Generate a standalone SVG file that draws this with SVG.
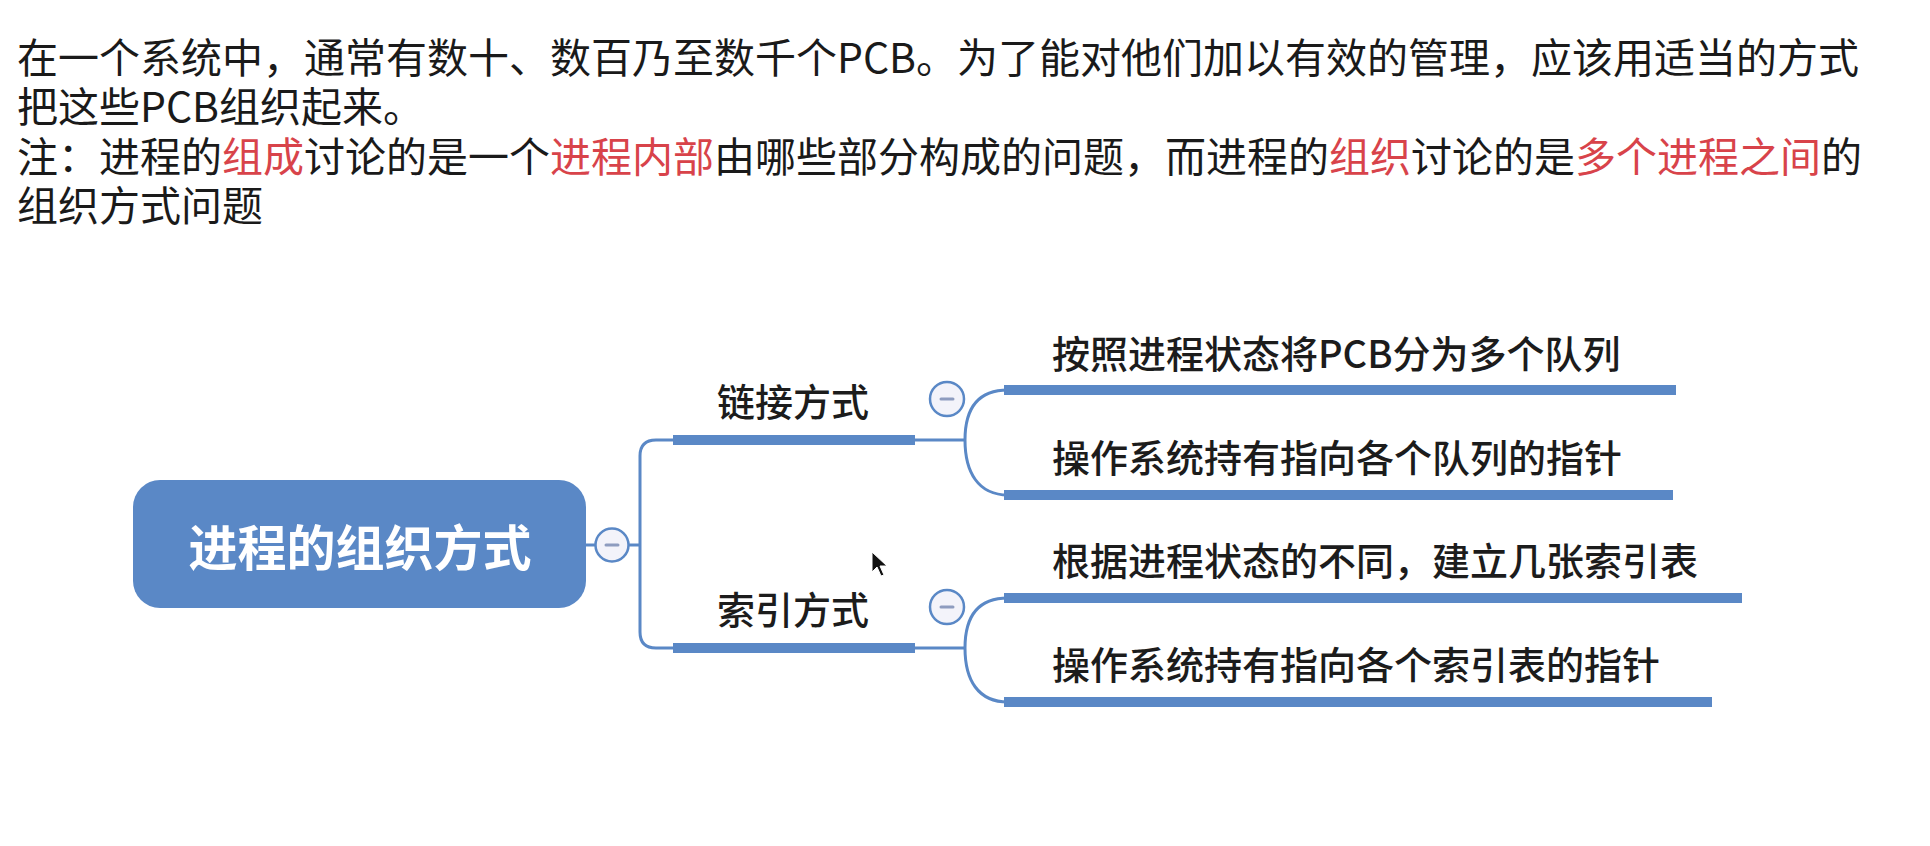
<svg xmlns="http://www.w3.org/2000/svg" width="1930" height="846" viewBox="0 0 1930 846">
<style>
.para{font-family:"Noto Sans CJK SC","Noto Sans",sans-serif;font-size:41px;fill:#1a1a1a;}
.red{fill:#d8434a;}
.root{font-family:"Noto Sans CJK SC",sans-serif;font-size:49px;font-weight:700;fill:#ffffff;}
.topic{font-family:"Noto Sans CJK SC",sans-serif;font-size:38px;font-weight:500;fill:#1c1c1c;}
.thin{fill:none;stroke:#5a88c6;stroke-width:3;}
.bar{fill:#5a88c6;}
.tog circle{fill:#f3f3fa;stroke:#5a88c6;stroke-width:2.5;}
.tog line{stroke:#8e9cbf;stroke-width:3;stroke-linecap:round;}
</style>
<rect width="1930" height="846" fill="#ffffff"/>
<g id="intro">
<text class="para" x="17" y="73">在一个系统中，通常有数十、数百乃至数千个PCB。为了能对他们加以有效的管理，应该用适当的方式</text>
<text class="para" x="17" y="122">把这些PCB组织起来。</text>
<text class="para" x="17" y="172">注：进程的<tspan class="red">组成</tspan>讨论的是一个<tspan class="red">进程内部</tspan>由哪些部分构成的问题，而进程的<tspan class="red">组织</tspan>讨论的是<tspan class="red">多个进程之间</tspan>的</text>
<text class="para" x="17" y="221">组织方式问题</text>
</g>
<g id="connectors">
<path class="thin" d="M586,545 H596"/>
<path class="thin" d="M629,545 H640"/>
<path class="thin" d="M676,440 H656 Q640,440 640,456 V632 Q640,648 656,648 H676"/>
<rect class="bar" x="673" y="435" width="242" height="10"/>
<rect class="bar" x="673" y="643" width="242" height="10"/>
<path class="thin" d="M914,440 H965"/>
<path class="thin" d="M914,648 H965"/>
<path class="thin" d="M965,440 C965,408 978,390 1008,390"/>
<path class="thin" d="M965,440 C965,472 978,495 1008,495"/>
<path class="thin" d="M965,648 C965,616 978,598 1008,598"/>
<path class="thin" d="M965,648 C965,680 978,702 1008,702"/>
</g>
<g id="root">
<rect x="133" y="480" width="453" height="128" rx="27" fill="#5a88c6"/>
<text class="root" x="360" y="566" text-anchor="middle">进程的组织方式</text>
</g>
<g id="root-toggle" class="tog">
<circle cx="612" cy="545" r="16.5"/>
<line x1="606" y1="545" x2="618" y2="545"/>
</g>
<g id="link">
<text class="topic" x="793" y="416" text-anchor="middle">链接方式</text>
</g>
<g id="link-toggle" class="tog">
<circle cx="947" cy="399" r="17"/>
<line x1="941" y1="399" x2="953" y2="399"/>
</g>
<g id="index">
<text class="topic" x="793" y="624" text-anchor="middle">索引方式</text>
</g>
<g id="index-toggle" class="tog">
<circle cx="947" cy="607" r="17"/>
<line x1="941" y1="607" x2="953" y2="607"/>
</g>
<g id="c1">
<rect class="bar" x="1004" y="385" width="672" height="10"/>
<text class="topic" x="1052" y="368">按照进程状态将PCB分为多个队列</text>
</g>
<g id="c2">
<rect class="bar" x="1004" y="490" width="669" height="10"/>
<text class="topic" x="1052" y="472">操作系统持有指向各个队列的指针</text>
</g>
<g id="c3">
<rect class="bar" x="1004" y="593" width="738" height="10"/>
<text class="topic" x="1052" y="575">根据进程状态的不同，建立几张索引表</text>
</g>
<g id="c4">
<rect class="bar" x="1004" y="697" width="708" height="10"/>
<text class="topic" x="1052" y="679">操作系统持有指向各个索引表的指针</text>
</g>
<g id="cursor">
<polygon points="872,552 872,572 877,567 881,576 884,575 880,566 887,566" fill="#111" stroke="#fff" stroke-width="1"/>
</g>
</svg>
